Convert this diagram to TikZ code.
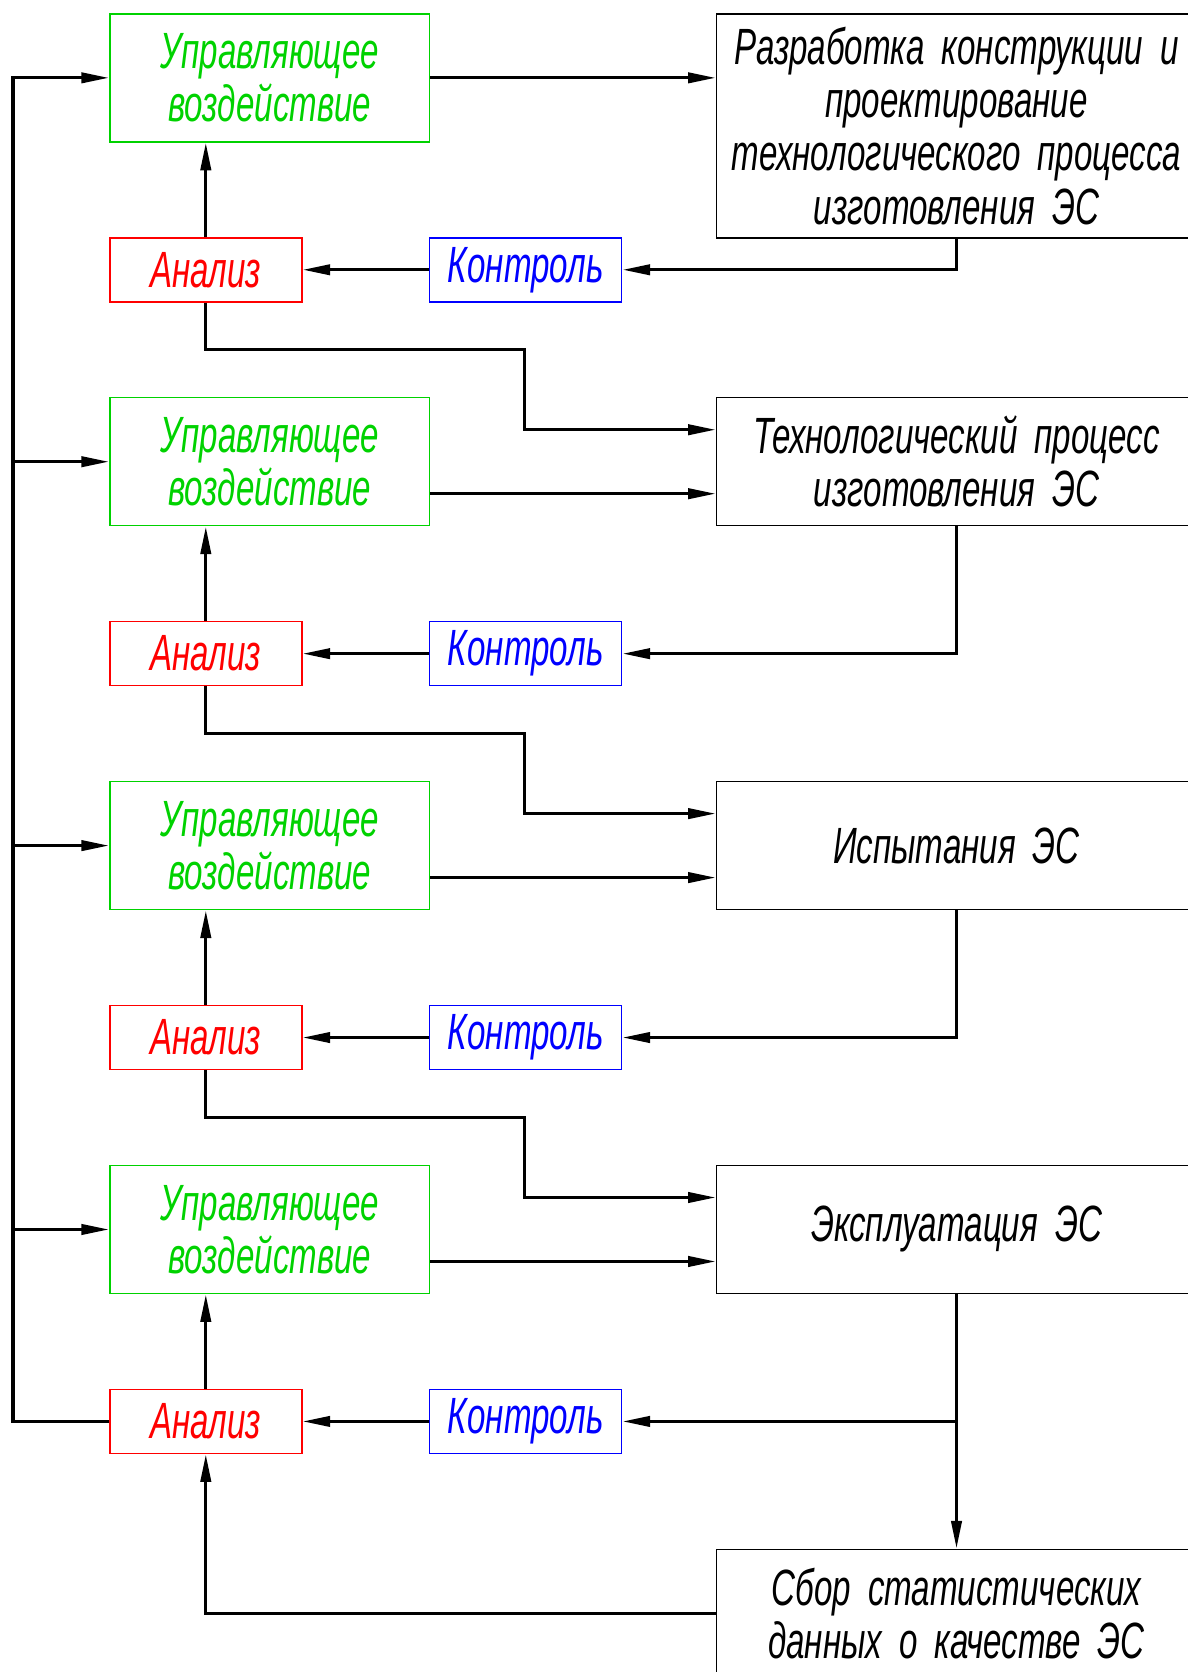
\documentclass[tikz,border=0pt]{standalone}
\usepackage{fontspec}
\setmainfont{Liberation Sans}
\newfontfamily\gost[FakeStretch=0.65]{Liberation Sans}
\usetikzlibrary{arrows.meta}

\definecolor{gostgreen}{RGB}{0,210,0}

\tikzset{bb/.style={draw, line width=1pt, inner sep=1mm, align=center, font=\gost\itshape\fontsize{34}{35.6}\selectfont}}
\tikzset{act/.style={bb, draw=gostgreen, text=gostgreen, minimum width=7.5cm, minimum height=3cm}}
\tikzset{anl/.style={bb, draw=red, text=red, minimum width=4.5cm, minimum height=1.5cm}}
\tikzset{ctl/.style={bb, draw=blue, text=blue, minimum width=4.5cm, minimum height=1.5cm}}
\tikzset{proc/.style={bb, text width=11.05cm, minimum height=3cm}}
\tikzset{arr/.style={-{Triangle[length=0.65cm, width=0.24cm]}, line width=2.2pt}}

\begin{document}
\begin{tikzpicture}[]
    \path[use as bounding box, clip] (0,0) rectangle (27.85,-39.2);

    \node[act] (act1) at (6.325,-1.825) {Управляющее\\воздействие};
    \node[proc, minimum height=5.25cm] (dev) at (22.425,-2.95) {Разработка конструкции и\\проектирование\\технологического процесса\\изготовления ЭС};
    \node[anl] (anl1) at ([xshift=-1.5cm, yshift=-4.5cm] act1) {Анализ};
    \node[ctl] (ctl1) at ([xshift=7.5cm] anl1) {Контроль};

    \node[act] (act2) at ([yshift=-9cm] act1) {Управляющее\\воздействие};
    \node[proc] (tech) at ([xshift=16.1cm] act2) {Технологический процесс\\изготовления ЭС};
    \node[anl] (anl2) at ([yshift=-9cm] anl1) {Анализ};
    \node[ctl] (ctl2) at ([yshift=-9cm] ctl1) {Контроль};

    \node[act] (act3) at ([yshift=-9cm] act2) {Управляющее\\воздействие};
    \node[proc] (test) at ([xshift=16.1cm] act3) {Испытания ЭС};
    \node[anl] (anl3) at ([yshift=-9cm] anl2) {Анализ};
    \node[ctl] (ctl3) at ([yshift=-9cm] ctl2) {Контроль};

    \node[act] (act4) at ([yshift=-9cm] act3) {Управляющее\\воздействие};
    \node[proc] (ops) at ([xshift=16.1cm] act4) {Эксплуатация ЭС};
    \node[anl] (anl4) at ([yshift=-9cm] anl3) {Анализ};
    \node[ctl] (ctl4) at ([yshift=-9cm] ctl3) {Контроль};

    \node[proc] (stat) at ([yshift=-9cm] ops) {Сбор статистических\\данных о качестве ЭС};

    % row 1
    \draw[arr] (act1.east) -- (act1.east -| dev.west);
    \draw[arr] (dev.south) |- (ctl1.east);
    \draw[arr] (ctl1.west) -- (anl1.east);
    \draw[arr] (anl1.north) -- (anl1.north |- act1.south);

    % row 2
    \draw[arr] (anl1.south) -- ++(0,-1.1) -- ++(7.475,0) |- ([yshift=0.75cm] tech.west);
    \draw[arr] ([yshift=-0.75cm] act2.east) -- ([yshift=-0.75cm] tech.west);
    \draw[arr] (tech.south) |- (ctl2.east);
    \draw[arr] (ctl2.west) -- (anl2.east);
    \draw[arr] (anl2.north) -- (anl2.north |- act2.south);

    % row 3
    \draw[arr] (anl2.south) -- ++(0,-1.1) -- ++(7.475,0) |- ([yshift=0.75cm] test.west);
    \draw[arr] ([yshift=-0.75cm] act3.east) -- ([yshift=-0.75cm] test.west);
    \draw[arr] (test.south) |- (ctl3.east);
    \draw[arr] (ctl3.west) -- (anl3.east);
    \draw[arr] (anl3.north) -- (anl3.north |- act3.south);

    % row 4
    \draw[arr] (anl3.south) -- ++(0,-1.1) -- ++(7.475,0) |- ([yshift=0.75cm] ops.west);
    \draw[arr] ([yshift=-0.75cm] act4.east) -- ([yshift=-0.75cm] ops.west);
    \draw[arr] (ops.south) |- (ctl4.east);
    \draw[arr] (ctl4.west) -- (anl4.east);
    \draw[arr] (anl4.north) -- (anl4.north |- act4.south);

    \draw[arr] (ops.south) -- (stat.north);
    \draw[arr] (stat.west) -| (anl4.south);

    % feedback bus
    \draw[arr] (anl4.west) -| ([xshift=-2.25cm] act1.west) -- (act1.west);
    \draw[arr] ([xshift=-2.25cm] act2.west) -- (act2.west);
    \draw[arr] ([xshift=-2.25cm] act3.west) -- (act3.west);
    \draw[arr] ([xshift=-2.25cm] act4.west) -- (act4.west);

\end{tikzpicture}
\end{document}
